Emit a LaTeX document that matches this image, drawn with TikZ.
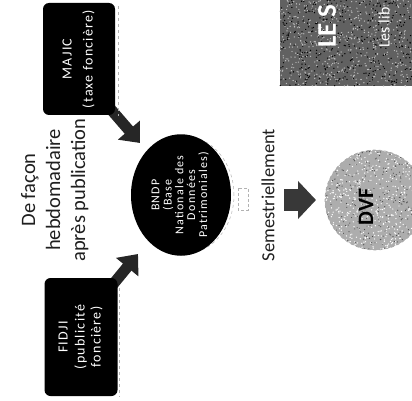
\documentclass[tikz,border=0pt]{standalone}
\usepackage{fontspec}
\setmainfont{Carlito}
\usepackage{graphicx}
\usetikzlibrary{arrows.meta,shapes.geometric,calc}
\begin{document}
\begin{tikzpicture}[x=1pt,y=-1pt,
  srcbox/.style={fill=black, rounded corners=6pt, inner sep=0pt, text=white,
    font=\fontsize{14}{16}\selectfont\addfontfeature{LetterSpace=9}},
  blockarrow/.style={draw=black!85, line width=11pt, -{Triangle[width=28pt,length=17pt]}},
  bigtext/.style={font=\fontsize{18.5}{25}\selectfont, text=black!88, inner sep=0pt},
  shadowline/.style={draw=gray!60, dashed, line width=0.7pt},
]
\useasboundingbox (0,0) rectangle (412,401);
\clip (0,0) rectangle (412,401);
\pgfmathsetseed{7}

% ---- top-right textured box
\node[fill=black!62, minimum width=132pt, minimum height=86pt, inner sep=0pt, anchor=north west] (lesbox) at (280,0) {};
\foreach \i in {1,...,600} \fill[black!25] (280+rnd*132, rnd*86) circle (0.7pt);
\foreach \i in {1,...,400} \fill[black] (280+rnd*132, rnd*86) circle (0.7pt);
\node[anchor=south, inner sep=0pt, text=white, font=\fontsize{27}{27}\selectfont\bfseries] (les) at (327,48) {\rotatebox{90}{LE S}};
\node[anchor=south, inner sep=0pt, text=white, font=\fontsize{16}{16}\selectfont] (leslib) at (384,48) {\rotatebox{90}{Les lib}};

% ---- connectors from the sources
\coordinate (mtip) at (140,143);
\coordinate (ftip) at (138,254);
\coordinate (mtail) at (108,106);
\coordinate (ftail) at (110,288);
\draw[blockarrow] (mtail) -- (mtip);
\draw[blockarrow] (ftail) -- (ftip);

% ---- source boxes
\draw[shadowline] (118,6) -- (118,116);
\draw[shadowline] (119,288) -- (119,397);
\node[srcbox, minimum width=72pt, minimum height=112pt] (majic) at (79,59)
  {\rotatebox{90}{\begin{tabular}{@{}c@{}}MAJIC\\[5pt](taxe foncière)\end{tabular}}};
\node[srcbox, minimum width=73pt, minimum height=118pt] (fidji) at (81,337)
  {\rotatebox{90}{\begin{tabular}{@{}c@{}}FIDJI\\[1pt](publicité\\foncière)\end{tabular}}};

% ---- left caption
\node[bigtext, font=\fontsize{20.5}{25}\selectfont] (freq) at (55,190)
  {\rotatebox{90}{\begin{tabular}{@{}c@{}}De façon\\hebdomadaire\\après publication\end{tabular}}};

% ---- BNDP
\draw[shadowline, line width=0.5pt] (184,195) ellipse [x radius=50pt, y radius=59pt];
\node[fill=black, ellipse, minimum width=100pt, minimum height=118pt, inner sep=0pt, text=white,
  font=\fontsize{12}{11.5}\selectfont\addfontfeature{LetterSpace=10}] (bndp) at (181,195)
  {\rotatebox{90}{\begin{tabular}{@{}c@{}}BNDP\\(Base\\Nationale des\\Données\\Patrimoniales)\end{tabular}}};
\draw[gray!60, densely dashed, line width=0.5pt] (238,188) rectangle (248,210);

% ---- semestrial
\node[bigtext] (sem) at (268,195) {\rotatebox{90}{Semestriellement}};
\coordinate (s1) at (284,200);
\coordinate (s2) at (316,200);
\draw[draw=black!78, line width=22pt, -{Triangle[width=37pt,length=18pt]}] (s1) -- (s2);

% ---- DVF
\node[circle, minimum size=100pt, fill=black!32, inner sep=0pt] (dvf) at (375,200) {};
\begin{scope}
  \clip (375,200) circle (50pt);
  \foreach \i in {1,...,550} \fill[white] (325+rnd*100, 150+rnd*100) circle (0.7pt);
  \foreach \i in {1,...,300} \fill[black!70] (325+rnd*100, 150+rnd*100) circle (0.6pt);
\end{scope}
\draw[gray!70, dashed, line width=0.7pt] (375,200) circle (50pt);
\node[inner sep=0pt, text=black, font=\fontsize{22}{22}\selectfont\bfseries] (dvft) at (366,207) {\rotatebox{90}{DVF}};
\end{tikzpicture}
\end{document}
